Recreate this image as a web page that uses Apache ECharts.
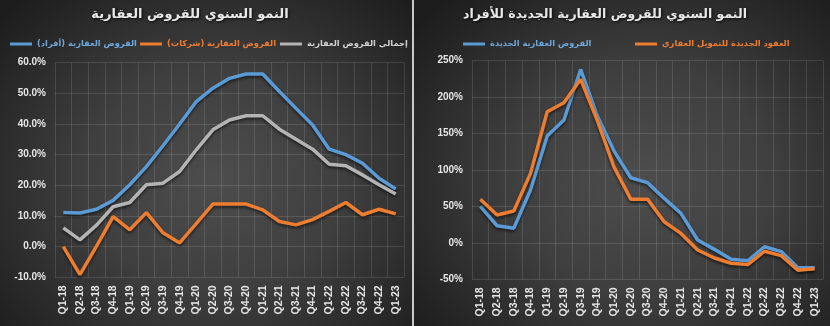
<!DOCTYPE html>
<html>
<head>
<meta charset="utf-8">
<script src="https://cdn.jsdelivr.net/npm/echarts@6/dist/echarts.min.js"></script>
<style>
  html, body { margin: 0; padding: 0; background: #1c1c1c; }
  #wrap { position: relative; width: 830px; height: 326px; overflow: hidden; }
  .panel { position: absolute; top: 0; height: 326px; }
  #pl { left: 0; width: 412px;
        background: radial-gradient(ellipse 70% 75% at 52% 55%, #4d4d4d 0%, #3f3f3f 45%, #262626 85%, #1d1d1d 100%); }
  #sep { left: 412px; width: 2px; background: #c8c8c8; }
  #pr { left: 414px; width: 416px;
        background: radial-gradient(ellipse 70% 75% at 55% 55%, #4d4d4d 0%, #3f3f3f 45%, #262626 85%, #1d1d1d 100%); }
  #chart { position: absolute; left: 0; top: 0; width: 830px; height: 326px; }
</style>
</head>
<body>
<div id="wrap">
  <div class="panel" id="pl"></div>
  <div class="panel" id="sep"></div>
  <div class="panel" id="pr"></div>
  <div id="chart"></div>
</div>
<script>
// Quarter labels shared by both panels
const quarters = ['Q1-18','Q2-18','Q3-18','Q4-18','Q1-19','Q2-19','Q3-19','Q4-19',
                  'Q1-20','Q2-20','Q3-20','Q4-20','Q1-21','Q2-21','Q3-21','Q4-21',
                  'Q1-22','Q2-22','Q3-22','Q4-22','Q1-23'];

// Left panel: annual growth of real-estate loans (%)
const leftTitle = 'النمو السنوي للقروض العقارية';
const nameIndividuals = 'القروض العقارية (أفراد)';
const nameCompanies = 'القروض العقارية (شركات)';
const nameTotal = 'إجمالي القروض العقارية';
const individuals = [11.1, 11.0, 12.2, 15.1, 20.2, 26.1, 32.9, 40.0, 47.3, 51.7, 54.9,
                     56.3, 56.3, 50.6, 45.1, 39.7, 31.8, 30.0, 27.2, 22.3, 18.8];
const companies   = [0.0, -9.1, 0.2, 9.8, 5.5, 11.1, 4.5, 1.2, 7.5, 13.9, 13.9,
                     13.9, 12.0, 8.2, 7.1, 8.8, 11.5, 14.4, 10.4, 12.2, 10.7];
const totalLoans  = [6.1, 2.2, 7.0, 13.0, 14.4, 20.2, 20.7, 24.5, 31.6, 38.1, 41.3,
                     42.7, 42.7, 38.3, 35.0, 31.8, 26.9, 26.4, 23.4, 20.2, 17.2];
const leftTicks = { min: -10, max: 60, interval: 10 };

// Right panel: annual growth of new real-estate loans to individuals (%)
const rightTitle = 'النمو السنوي للقروض العقارية الجديدة للأفراد';
const nameNewLoans = 'القروض العقارية الجديدة';
const nameNewContracts = 'العقود الجديدة للتمويل العقاري';
const newLoans     = [50, 23.5, 20, 72.5, 146.7, 168.6, 238, 174, 126, 89.4, 82.6,
                      61, 40.5, 3.9, -8.9, -22.5, -24.5, -5.3, -12, -34, -34];
const newContracts = [60, 38.2, 43.7, 95.4, 180, 192.4, 224.5, 167.7, 104, 60, 60,
                      29, 13, -9.8, -20.8, -28, -29.8, -11.5, -17.5, -37.5, -35.5];
const rightTicks = { min: -50, max: 250, interval: 50 };

const BLUE = '#5b9bd5', ORANGE = '#ed7d31', GREY = '#b4b4b4';
const FONT = 'Liberation Sans, DejaVu Sans, sans-serif';
const AR_FONT = 'DejaVu Sans, sans-serif';
const RLM = '\u200F';

const chart = echarts.init(document.getElementById('chart'), null, { renderer: 'canvas' });

function titleOpt(text, x, size) {
  return {
    text: text, left: x, top: 8, padding: 0, textAlign: 'center',
    textStyle: {
      color: '#e8e8e8', fontSize: size, fontWeight: 'bold', fontFamily: AR_FONT,
      textShadowColor: 'rgba(0,0,0,0.8)', textShadowBlur: 3, textShadowOffsetX: 1, textShadowOffsetY: 1
    }
  };
}
function legendOpt(name, color, x) {
  return {
    data: [{ name: name, textStyle: { color: color } }],
    left: x, top: 40, padding: 0, icon: 'rect', itemWidth: 22, itemHeight: 3,
    formatter: n => n + RLM,
    textStyle: { fontSize: 8.3, fontWeight: 'bold', fontFamily: AR_FONT }
  };
}
function xAxisOpt(gridIndex) {
  return {
    type: 'category', gridIndex: gridIndex, data: quarters, boundaryGap: true,
    axisLine: { show: false }, axisTick: { show: false },
    axisLabel: { rotate: 90, margin: 8, color: '#e6e6e6', fontSize: 10.5, fontWeight: 'bold', fontFamily: FONT, interval: 0 },
    splitLine: { show: true, interval: 0, lineStyle: { color: 'rgba(255,255,255,0.12)', width: 1 } }
  };
}
function yAxisOpt(gridIndex, ticks, decimals) {
  return {
    type: 'value', gridIndex: gridIndex, min: ticks.min, max: ticks.max, interval: ticks.interval,
    axisLine: { show: false }, axisTick: { show: false },
    axisLabel: { margin: 9, color: '#e6e6e6', fontSize: 10, fontWeight: 'bold', fontFamily: FONT,
                 formatter: v => v.toFixed(decimals) + '%' },
    splitLine: { show: true, lineStyle: { color: 'rgba(255,255,255,0.12)', width: 1 } }
  };
}
function lineSeries(name, data, color, axisIndex) {
  return {
    type: 'line', name: name, data: data, xAxisIndex: axisIndex, yAxisIndex: axisIndex,
    symbol: 'none', smooth: false,
    lineStyle: { color: color, width: 3.5, shadowColor: 'rgba(0,0,0,0.55)', shadowBlur: 3, shadowOffsetY: 2 },
    itemStyle: { color: color }
  };
}

chart.setOption({
  backgroundColor: 'transparent',
  animation: false,
  title: [titleOpt(leftTitle, 190, 13), titleOpt(rightTitle, 605, 12.5)],
  legend: [
    legendOpt(nameIndividuals, '#6fa8dc', 10),
    legendOpt(nameCompanies, ORANGE, 140),
    legendOpt(nameTotal, '#d0d0d0', 280),
    legendOpt(nameNewLoans, '#6fa8dc', 463),
    legendOpt(nameNewContracts, ORANGE, 635)
  ],
  grid: [
    { left: 55, top: 62.7, width: 349, height: 214.6 },
    { left: 472, top: 60.7, width: 351, height: 218.6 }
  ],
  xAxis: [xAxisOpt(0), xAxisOpt(1)],
  yAxis: [yAxisOpt(0, leftTicks, 1), yAxisOpt(1, rightTicks, 0)],
  series: [
    lineSeries(nameIndividuals, individuals, BLUE, 0),
    lineSeries(nameCompanies, companies, ORANGE, 0),
    lineSeries(nameTotal, totalLoans, GREY, 0),
    lineSeries(nameNewLoans, newLoans, BLUE, 1),
    lineSeries(nameNewContracts, newContracts, ORANGE, 1)
  ]
});
</script>
</body>
</html>
